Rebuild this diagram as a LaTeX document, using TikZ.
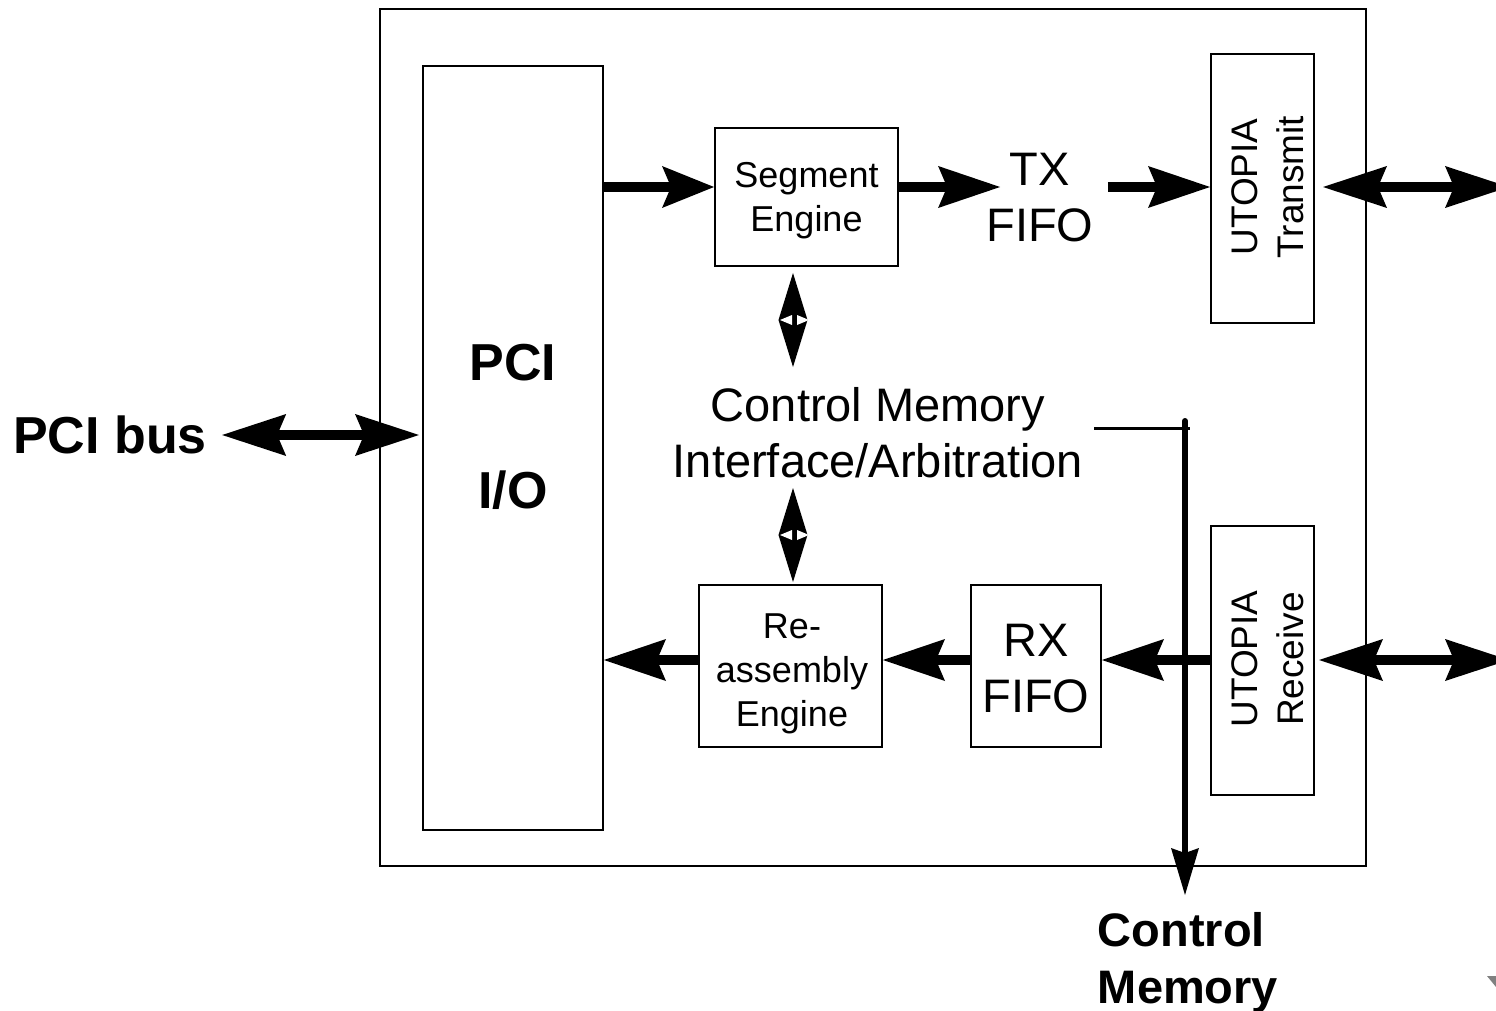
\documentclass[tikz,border=0pt]{standalone}
\usepackage{fontspec}
\setmainfont{Liberation Sans}
\usetikzlibrary{arrows.meta,calc}
\begin{document}
\begin{tikzpicture}[x=0.5pt,y=-0.5pt,
  box/.style={draw,line width=1pt,inner sep=0pt,align=center},
  txt/.style={inner sep=0pt,align=center},
  fat/.style={line width=5pt,-{Stealth[length=31pt,width=21pt,inset=4.5pt,line width=0pt]}},
  fatshort/.style={line width=5pt,-{Stealth[length=26pt,width=21pt,inset=4.5pt,line width=0pt]}},
  fatdbl/.style={line width=5pt,{Stealth[length=32pt,width=21pt,inset=4.5pt,line width=0pt]}-{Stealth[length=32pt,width=21pt,inset=4.5pt,line width=0pt]}},
  diam/.style={line width=0.4pt,{Triangle[length=23.5pt,width=14.5pt,line width=0pt]}-{Triangle[length=23.5pt,width=14.5pt,line width=0pt]}},
  memarrow/.style={line width=3pt,line cap=round,-{Stealth[length=23.5pt,width=14pt,inset=2.5pt,line width=0pt]}},
  fs/.style={font=\fontsize{18pt}{22pt}\selectfont},
  fm/.style={font=\fontsize{23.5pt}{28pt}\selectfont},
  fu/.style={font=\fontsize{18.5pt}{23pt}\selectfont},
  fb/.style={font=\bfseries\fontsize{26pt}{30pt}\selectfont},
  fbm/.style={font=\bfseries\fontsize{23.5pt}{28.5pt}\selectfont}]
\useasboundingbox (0,0) rectangle (1496,1011);
\fill[white] (0,0) rectangle (1496,1011);

% rows
\coordinate (r1) at (0,187);
\coordinate (r2) at (0,660);

% boxes
\node[box,minimum width=493pt,minimum height=428.5pt] (outer) at (873,437.5) {};
\node[box,minimum width=90pt,minimum height=382pt] (pci) at (513,448) {};
\node[txt,fb] (pcit) at (513,363) {PCI};
\node[txt,fb] (iot) at (513,490) {I/O};
\node[box,minimum width=91.5pt,minimum height=69pt] (seg) at (806.5,197) {};
\node[txt,fs] (segt) at (806.5,201) {Segment\\Engine};
\node[box,minimum width=91.5pt,minimum height=81pt] (re) at (790.5,666) {};
\node[txt,fs] (ret) at (792,674) {Re-\\assembly\\Engine};
\node[box,minimum width=65pt,minimum height=81pt] (rx) at (1036,666) {};
\node[txt,fm] (rxt) at (1036,669) {RX\\FIFO};
\node[txt,fm] (tx) at (1040,198) {TX\\FIFO};
\node[box,minimum width=51.5pt,minimum height=134.5pt] (utx) at (1262.5,188.5) {};
\node[txt,fu,rotate=90] (utxt) at (1268,187) {UTOPIA\\Transmit};
\node[box,minimum width=51.5pt,minimum height=134.5pt] (urx) at (1262.5,660.5) {};
\node[txt,fu,rotate=90] (urxt) at (1268,659) {UTOPIA\\Receive};
\node[txt,fm] (cm) at (878,433) {Control Memory\\Interface/Arbitration};
\node[txt,fb] (bus) at (110,435) {PCI bus};
\node[txt,fbm,align=left] (cmem) at (1188,963) {Control\\Memory};

% free ends
\coordinate (e1) at (1509,187);
\coordinate (e2) at (1509,660);
\coordinate (d1a) at (793,273);
\coordinate (d1b) at (793,367);
\coordinate (d2a) at (793,488);
\coordinate (d2b) at (793,582);
\coordinate (h1) at (1094,428);
\coordinate (h2) at (1190,428);
\coordinate (v1) at (1185,421);
\coordinate (v2) at (1185,895);

% transmit path
\draw[fatshort] (pci.east |- r1) -- (seg.west |- r1);
\draw[fat] (seg.east |- r1) -- ($(tx.west |- r1)+(14,0)$);
\draw[fat] ($(tx.east |- r1)+(14,0)$) -- (utx.west |- r1);
\draw[fatdbl] ($(utx.east |- r1)+(8,0)$) -- (e1);

% receive path
\draw[fat] (urx.west |- r2) -- (rx.east |- r2);
\draw[fat] (rx.west |- r2) -- (re.east |- r2);
\draw[fat] (re.west |- r2) -- (pci.east |- r2);
\draw[fatdbl] ($(urx.east |- r2)+(4,0)$) -- (e2);

% PCI bus
\draw[fatdbl] ($(bus.east)+(15,0)$) -- ($(pci.west)+(-3,-13)$);

% diamonds
\draw[diam] (d1a) -- (d1b);
\draw[diam] (d2a) -- (d2b);
\foreach \c in {320,535}{
  \fill[white] (780,\c) -- (792,\c-5) -- (792,\c+5) -- cycle;
  \fill[white] (809,\c) -- (797,\c-5) -- (797,\c+5) -- cycle;
}

% control memory connection
\draw[line width=1.5pt] (h1) -- (h2);
\draw[memarrow] (v1) -- (v2);

% small gray mark at bottom right
\fill[gray] (1487,976) -- (1496,976) -- (1496,987) -- cycle;
\end{tikzpicture}
\end{document}
